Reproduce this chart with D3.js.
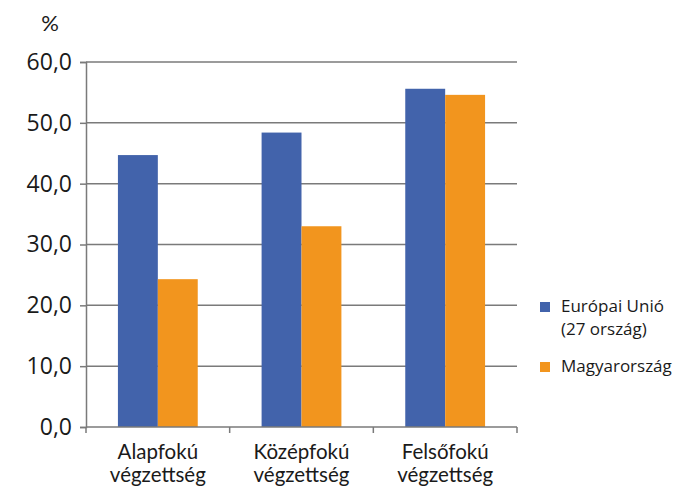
<!DOCTYPE html>
<html>
<head>
<meta charset="utf-8">
<script src="https://cdn.jsdelivr.net/npm/d3@7"></script>
<style>
  body { margin: 0; background: #fff; }
  text { font-family: "Lato", "Open Sans", sans-serif; fill: #1a1a1a; }
</style>
</head>
<body>
<div id="chart"></div>
<script>
// Chart data
const categories = [["Alapfokú", "végzettség"], ["Középfokú", "végzettség"], ["Felsőfokú", "végzettség"]];
const seriesNames = [["Európai Unió", "(27 ország)"], ["Magyarország"]];
const euValues = [44.7, 48.4, 55.6];
const huValues = [24.3, 33.0, 54.6];
const yTicks = [0, 10, 20, 30, 40, 50, 60];
const colors = ["#4263ab", "#f2951e"];

const width = 674, height = 488;
const margin = { top: 62, right: 157, bottom: 61, left: 86 };
const innerW = width - margin.left - margin.right;
const innerH = height - margin.top - margin.bottom;

const svg = d3.select('#chart')
    .append('svg')
    .attr('width', width)
    .attr('height', height);

const g = svg.append('g')
    .attr('transform', `translate(${margin.left},${margin.top})`);

// Scales
const x0 = d3.scaleBand()
    .domain(d3.range(categories.length))
    .range([0, innerW])
    .padding(0);

const x1 = d3.scaleBand()
    .domain([0, 1])
    .range([0, x0.bandwidth()])
    .paddingInner(0)
    .paddingOuter(0.8);

const y = d3.scaleLinear()
    .domain([0, 60])
    .range([innerH, 0]);

// Gridlines
g.append('g')
    .selectAll('line')
    .data(yTicks.slice(1))
    .enter().append('line')
    .attr('x1', 0)
    .attr('x2', innerW)
    .attr('y1', d => y(d))
    .attr('y2', d => y(d))
    .attr('stroke', '#7a7a7a')
    .attr('stroke-width', 1.5);

// Bars
const rows = categories.map((c, i) => [euValues[i], huValues[i]]);
const groups = g.selectAll('.grp')
    .data(rows)
    .enter().append('g')
    .attr('transform', (d, i) => `translate(${x0(i)},0)`);

groups.selectAll('rect')
    .data(d => d)
    .enter().append('rect')
    .attr('x', (d, j) => x1(j))
    .attr('width', x1.bandwidth())
    .attr('y', d => y(d))
    .attr('height', d => innerH - y(d))
    .attr('fill', (d, j) => colors[j]);

// Y axis
const yAxis = g.append('g')
    .call(d3.axisLeft(y).tickValues(yTicks).tickSize(6).tickPadding(8)
        .tickFormat(d => d3.format('.1f')(d).replace('.', ',')));
yAxis.select('.domain').attr('stroke', '#7a7a7a').attr('stroke-width', 1.5);
yAxis.selectAll('.tick line').attr('stroke', '#7a7a7a').attr('stroke-width', 1.5);
yAxis.selectAll('.tick text')
    .style('font-size', '23px')
    .style('font-family', '"Open Sans", sans-serif')
    .attr('fill', '#1a1a1a');

// X axis
const xAxisG = g.append('g').attr('transform', `translate(0,${innerH})`);
xAxisG.append('line')
    .attr('x1', 0).attr('x2', innerW)
    .attr('stroke', '#7a7a7a').attr('stroke-width', 1.5);
xAxisG.selectAll('.xt')
    .data(d3.range(categories.length + 1))
    .enter().append('line')
    .attr('x1', i => i * x0.step())
    .attr('x2', i => i * x0.step())
    .attr('y1', 0).attr('y2', 6)
    .attr('stroke', '#7a7a7a').attr('stroke-width', 1.5);

// category labels, one text per line
categories.forEach((lines, i) => {
    lines.forEach((t, k) => {
        xAxisG.append('text')
            .attr('text-anchor', 'middle')
            .attr('x', x0(i) + x0.bandwidth() / 2)
            .attr('y', 32 + k * 23)
            .style('font-size', '20.5px')
            .text(t);
    });
});

// % label
svg.append('text')
    .attr('x', 50)
    .attr('y', 31)
    .attr('text-anchor', 'middle')
    .style('font-size', '22px')
    .text('%');

// Legend
const legend = svg.append('g').attr('transform', 'translate(540,0)');
const legendY = [302, 362];
seriesNames.forEach((lines, j) => {
    legend.append('rect')
        .attr('x', 0).attr('y', legendY[j])
        .attr('width', 10).attr('height', 10)
        .attr('fill', colors[j]);
    lines.forEach((t, k) => {
        legend.append('text')
            .attr('x', 21)
            .attr('y', legendY[j] + 10 + k * 23)
            .style('font-size', '17px')
            .style('font-family', '"Open Sans", sans-serif')
            .text(t);
    });
});
</script>
</body>
</html>
